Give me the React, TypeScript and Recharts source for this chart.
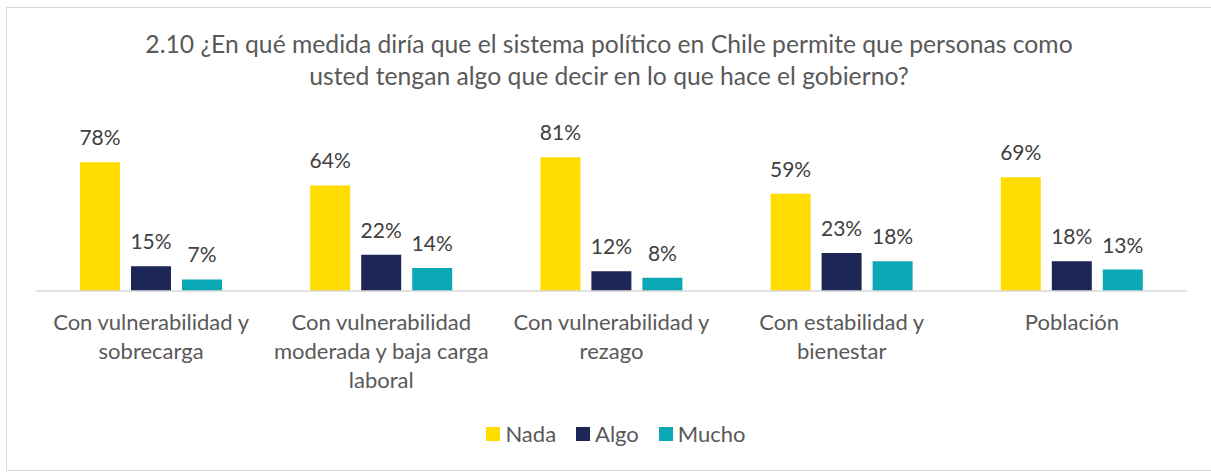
import React from 'react';
import { BarChart, Bar, XAxis, YAxis, LabelList } from 'recharts';

const titleLines = [
  '2.10 ¿En qué medida diría que el sistema político en Chile permite que personas como',
  'usted tengan algo que decir en lo que hace el gobierno?',
];
const categories = [
  'Con vulnerabilidad y\nsobrecarga',
  'Con vulnerabilidad\nmoderada y baja carga\nlaboral',
  'Con vulnerabilidad y\nrezago',
  'Con estabilidad y\nbienestar',
  'Población',
];
const nada = [78, 64, 81, 59, 69];
const algo = [15, 22, 12, 23, 18];
const mucho = [7, 14, 8, 18, 13];
const seriesKeys = ['Nada', 'Algo', 'Mucho'];
const seriesColors = ['#FFDD00', '#1C2657', '#0AA8B4'];

const data = categories.map((c, i) => ({
  category: c,
  Nada: nada[i],
  Algo: algo[i],
  Mucho: mucho[i],
}));

const FONT = 'Lato, "Open Sans", sans-serif';

const CategoryTick = (props: any) => {
  const { x, y, payload } = props;
  const lines = String(payload.value).split('\n');
  return (
    <text
      x={x}
      y={y + 39}
      textAnchor="middle"
      fill="#595959"
      fontSize={22}
      fontFamily={FONT}
    >
      {lines.map((l, i) => (
        <tspan key={i} x={x} dy={i === 0 ? 0 : 29}>
          {l}
        </tspan>
      ))}
    </text>
  );
};

export default function App() {
  return (
    <div
      style={{
        position: 'absolute',
        left: 0,
        top: 0,
        width: 1211,
        height: 472,
        background: '#fff',
        overflow: 'hidden',
        fontFamily: FONT,
      }}
    >
      <div
        style={{
          position: 'absolute',
          left: 6,
          top: 7,
          width: 1230,
          height: 462,
          border: '1.5px solid #D9D9D9',
        }}
      />
      <svg
        width={1211}
        height={110}
        style={{ position: 'absolute', left: 0, top: 0 }}
      >
        {titleLines.map((t, i) => (
          <text
            key={i}
            x={609}
            y={53 + i * 32}
            textAnchor="middle"
            fill="#595959"
            fontSize={24.7}
            fontFamily={FONT}
          >
            {t}
          </text>
        ))}
      </svg>
      <div style={{ position: 'absolute', left: 0, top: 0 }}>
        <BarChart
          width={1211}
          height={472}
          data={data}
          margin={{ top: 126, right: 24, bottom: 0, left: 36 }}
          barSize={40}
          barGap={11}
        >
          <XAxis
            dataKey="category"
            height={181}
            interval={0}
            tickLine={false}
            tickSize={0}
            tickMargin={0}
            axisLine={{ stroke: '#D9D9D9', strokeWidth: 1.5 }}
            tick={<CategoryTick />}
          />
          <YAxis hide domain={[0, 100]} />
          {seriesKeys.map((k, i) => (
            <Bar key={k} dataKey={k} fill={seriesColors[i]} isAnimationActive={false}>
              <LabelList
                dataKey={k}
                position="top"
                offset={17}
                formatter={(v: any) => `${v}%`}
                fill="#404040"
                fontSize={21}
                fontFamily={FONT}
              />
            </Bar>
          ))}
        </BarChart>
      </div>
      <div
        style={{
          position: 'absolute',
          left: 0,
          top: 420,
          width: 1232,
          display: 'flex',
          justifyContent: 'center',
          alignItems: 'center',
          height: 28,
        }}
      >
        {seriesKeys.map((k, i) => (
          <div
            key={k}
            style={{
              display: 'flex',
              alignItems: 'center',
              marginRight: i < seriesKeys.length - 1 ? 20 : 0,
            }}
          >
            <div
              style={{ width: 14, height: 14, background: seriesColors[i], marginRight: 5 }}
            />
            <span style={{ fontSize: 22, color: '#595959', lineHeight: '28px' }}>{k}</span>
          </div>
        ))}
      </div>
    </div>
  );
}
